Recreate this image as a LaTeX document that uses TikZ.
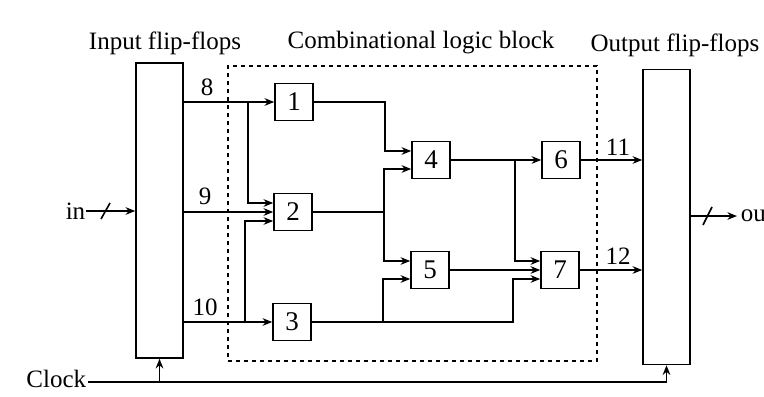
\documentclass[tikz,border=0pt]{standalone}
\usepackage{fontspec}
\setmainfont{Liberation Serif}
\usetikzlibrary{arrows.meta,calc}
\begin{document}
\begin{tikzpicture}[x=0.5pt,y=-0.5pt,
  font=\fontsize{12.5}{14}\selectfont, line width=0.8pt,
  gate/.style={draw, minimum width=19pt, minimum height=18.5pt, inner sep=0pt, font=\fontsize{13.5}{14}\selectfont},
  ff/.style={draw, minimum width=23.5pt, minimum height=147.5pt, inner sep=0pt},
  wire/.style={-{Stealth[length=4.8pt,width=3.8pt]}},
  lbl/.style={inner sep=0pt}]
\useasboundingbox (0,0) rectangle (764,396);
\fill[white] (0,0) rectangle (764,396);

% flip-flop blocks and logic block outline
\node[ff] (inFF) at (159.5,210.5) {};
\node[ff] (outFF) at (666.5,217) {};
\node[draw, dash pattern=on 2pt off 2pt, minimum width=184.5pt, minimum height=147.5pt, inner sep=0pt] (clb) at (412.5,213.5) {};

% titles
\node[lbl] (tin) at (165,43) {Input flip-flops};
\node[lbl] (tclb) at (421,43) {Combinational logic block};
\node[lbl] (tout) at (675,45) {Output flip-flops};

% gates
\node[gate] (b1) at (294,102) {1};
\node[gate] (b2) at (293,212) {2};
\node[gate] (b3) at (292,322) {3};
\node[gate] (b4) at (431,160) {4};
\node[gate] (b5) at (430,270) {5};
\node[gate] (b6) at (561,160) {6};
\node[gate] (b7) at (560,270) {7};

% wire labels
\node[lbl] (l8) at (207,87) {8};
\node[lbl] (l9) at (205,196) {9};
\node[lbl] (l10) at (205,307) {10};
\node[lbl] (l11) at (618,147) {11};
\node[lbl] (l12) at (618,256) {12};

% input flip-flops to gates 1,2,3
\draw[wire] (inFF.east |- b1) -- (b1.west);
\draw[wire] (inFF.east |- b2) -- (b2.west);
\draw[wire] (inFF.east |- b3) -- (b3.west);
\coordinate (j8) at (248,102);
\coordinate (j10) at (245,322);
\draw[wire] (j8) |- ($(b2.west)+(0,-9)$);
\draw[wire] (j10) |- ($(b2.west)+(0,9)$);

% gate 1,2,3 outputs
\coordinate (c1) at (385,102);
\draw[wire] (b1.east) -- (c1) |- ($(b4.west)+(0,-9)$);
\coordinate (j2) at (384,212);
\draw (b2.east) -- (j2);
\draw[wire] (j2) |- ($(b4.west)+(0,9)$);
\draw[wire] (j2) |- ($(b5.west)+(0,-9)$);
\coordinate (j3) at (383,322);
\coordinate (c3) at (513,322);
\draw[wire] (b3.east) -- (c3) |- ($(b7.west)+(0,9)$);
\draw[wire] (j3) |- ($(b5.west)+(0,9)$);

% gate 4,5 outputs
\draw[wire] (b4.east) -- (b6.west);
\coordinate (j4) at (515,160);
\draw[wire] (j4) |- ($(b7.west)+(0,-9)$);
\draw[wire] (b5.east) -- (b7.west);

% gate 6,7 outputs
\draw[wire] (b6.east) -- (outFF.west |- b6);
\draw[wire] (b7.east) -- (outFF.west |- b7);

% in / out buses
\node[lbl, anchor=east] (inL) at (86,211) {in};
\draw[wire] (inL.east) -- (inFF.west |- inL.east);
\draw (101,219) -- (110,203);
\coordinate (oe) at (737,216);
\draw[wire] (outFF.east |- oe) -- (oe);
\draw (703,225) -- (712,207);
\node[lbl, anchor=west] (outL) at (740,216) {ou};

% clock
\node[lbl, anchor=east] (clk) at (87,379) {Clock};
\coordinate (ck0) at (88,382);
\coordinate (ck1) at (666.5,382);
\draw (ck0) -- (ck1);
\draw[wire] (ck1) -- (outFF.south);
\draw[wire] (inFF.south |- ck0) -- (inFF.south);
\end{tikzpicture}
\end{document}
